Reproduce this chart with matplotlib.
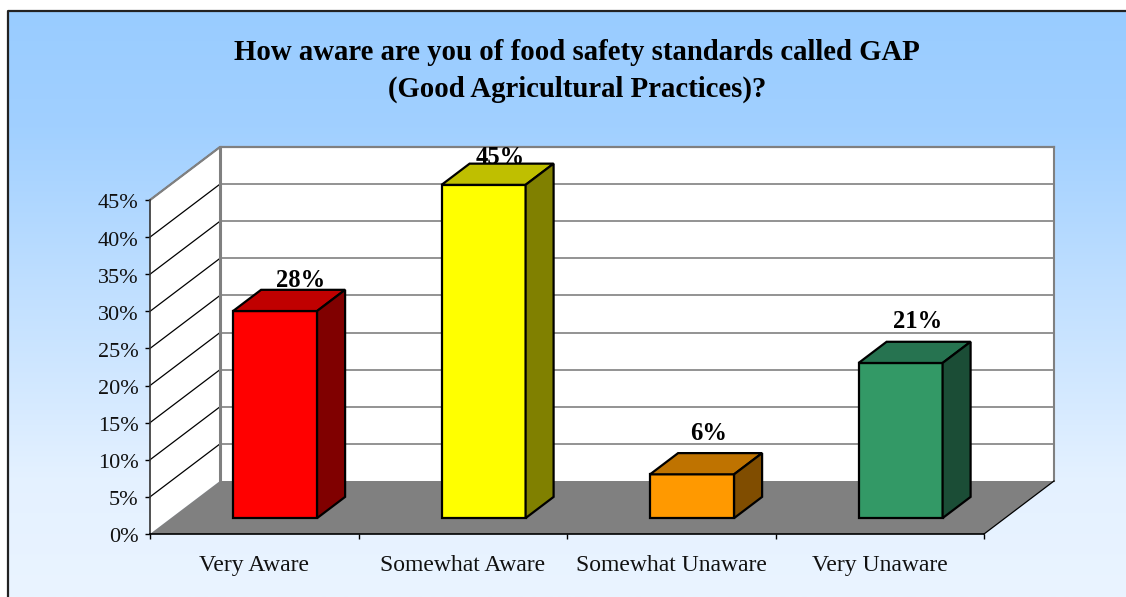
import numpy as np
import matplotlib
matplotlib.use("Agg")
import matplotlib.pyplot as plt
from matplotlib.patches import Polygon
from matplotlib.transforms import ScaledTranslation

categories = ["Very Aware", "Somewhat Aware", "Somewhat Unaware", "Very Unaware"]
values = [28, 45, 6, 21]
value_labels = ["28%", "45%", "6%", "21%"]
yticks = [0, 5, 10, 15, 20, 25, 30, 35, 40, 45]

front_colors = ["#FF0000", "#FFFF00", "#FF9900", "#339966"]
top_colors = ["#C00000", "#BFBF00", "#BF7300", "#267350"]
side_colors = ["#800000", "#808000", "#804D00", "#1B4D36"]

W, H = 1126, 597
plt.rcParams['font.family'] = ['Liberation Serif', 'DejaVu Serif']

fig = plt.figure(figsize=(W / 100, H / 100), dpi=100, facecolor="white")

# background gradient, whole figure, border drawn on top
bg = fig.add_axes([0, 0, 1, 1])
bg.axis("off")
grad = np.interp(np.linspace(0, 1, 300), [0, 0.2, 0.8, 1], [0, 0.1, 0.93, 1])
c1, c2 = np.array([0x99, 0xCC, 0xFF]) / 255, np.array([0xEA, 0xF4, 0xFF]) / 255
img = c1[None, None, :] + grad[:, None, None] * (c2 - c1)[None, None, :]
bg.imshow(img, extent=[8, W, H, 11], aspect="auto", zorder=0)
bg.plot([8, 8, W], [H, 11, 11], color="#222222", lw=1.6, zorder=1)
bg.set_xlim(0, W)
bg.set_ylim(H, 0)

ax = fig.add_axes([150 / W, 1 - 534 / H, 834 / W, 334 / H])
ax.set_xlim(0, len(categories))
ax.set_ylim(0, 45)
ax.patch.set_visible(False)

# depth of the 3d box in data units
dx = 70 / 834 * len(categories)
dy = 53 / 334 * 45
n = len(categories)


def poly(pts, fc, ec="none", lw=0.0, z=1):
    ax.add_patch(Polygon(pts, closed=True, fc=fc, ec=ec, lw=lw, zorder=z,
                         clip_on=False, joinstyle="miter"))


# walls and floor
poly([(dx, dy), (n + dx, dy), (n + dx, 45 + dy), (dx, 45 + dy)], "white", z=1)
poly([(0, 0), (dx, dy), (dx, 45 + dy), (0, 45)], "white", z=1)
poly([(0, 0), (n, 0), (n + dx, dy), (dx, dy)], "#808080", z=2)
for t in yticks[1:]:
    ax.plot([dx, n + dx], [t + dy, t + dy], color="#808080", lw=1.2, zorder=2, clip_on=False)
    ax.plot([0, dx], [t, t + dy], color="black", lw=0.9, zorder=3, clip_on=False)
ax.plot([dx, dx], [dy, 45 + dy], color="#808080", lw=2.2, zorder=3, clip_on=False)
ax.plot([n + dx, n + dx], [dy, 45 + dy], color="#808080", lw=1.5, zorder=3, clip_on=False)
ax.plot([0, dx, n + dx], [45, 45 + dy, 45 + dy], color="#808080", lw=1.6, zorder=3, clip_on=False)
ax.plot([n, n + dx], [0, dy], color="black", lw=0.9, zorder=3, clip_on=False)

# bars
bar_w = 84 / 834 * n
d0, d1 = 0.30, 0.70
label_dx = [0.12, 0.08, 0.08, 0.08]
label_dy = [1.2, 0.8, 2.7, 2.7]
for i, v in enumerate(values):
    x0 = i + 0.5 - bar_w / 2 + 0.1
    x1 = x0 + bar_w
    fy = d0 * dy
    bx, by = (d1 - d0) * dx, (d1 - d0) * dy
    top = v + fy - 0.1
    poly([(x0, fy), (x1, fy), (x1, top), (x0, top)], front_colors[i], "black", 1.6, 5)
    poly([(x0, top), (x1, top), (x1 + bx, top + by), (x0 + bx, top + by)], top_colors[i], "black", 1.6, 5)
    poly([(x1, fy), (x1 + bx, fy + by), (x1 + bx, top + by), (x1, top)], side_colors[i], "black", 1.6, 5)
    ax.text((x0 + x1) / 2 + label_dx[i], top + by + label_dy[i], value_labels[i],
            ha="center", va="center", fontsize=17.7, fontweight="bold", color="black", zorder=6, clip_on=False)

for side in ["top", "right"]:
    ax.spines[side].set_visible(False)
ax.spines["left"].set_color("#333333")
ax.spines["left"].set_linewidth(1.2)
ax.spines["left"].set_zorder(4)
ax.spines["bottom"].set_linewidth(1.2)
ax.spines["bottom"].set_zorder(4)

ax.set_yticks(yticks)
ax.set_yticklabels([f"{t}%" for t in yticks], fontsize=16, color="#111111")
ax.tick_params(axis="y", length=3.6, width=1, pad=4.5)
# tick labels sit a little under their ticks in the original
shift = ScaledTranslation(0, -1.5 / 100, fig.dpi_scale_trans)
for lab in ax.get_yticklabels():
    lab.set_transform(lab.get_transform() + shift)
ax.set_xticks(range(n + 1))
ax.set_xticklabels([])
ax.tick_params(axis="x", which="major", length=3.6, width=1)
ax.set_xticks([i + 0.5 for i in range(n)], minor=True)
ax.set_xticklabels(categories, minor=True, fontsize=17, color="#111111")
ax.tick_params(axis="x", which="minor", length=0, pad=15)

fig.text(576.5 / W, 1 - 52 / H, "How aware are you of food safety standards called GAP",
         ha="center", va="center", fontsize=20.7, fontweight="bold", color="black")
fig.text(577.5 / W, 1 - 89 / H, "(Good Agricultural Practices)?",
         ha="center", va="center", fontsize=20.7, fontweight="bold", color="black")

fig.savefig("out.png", dpi=100, facecolor="white")
